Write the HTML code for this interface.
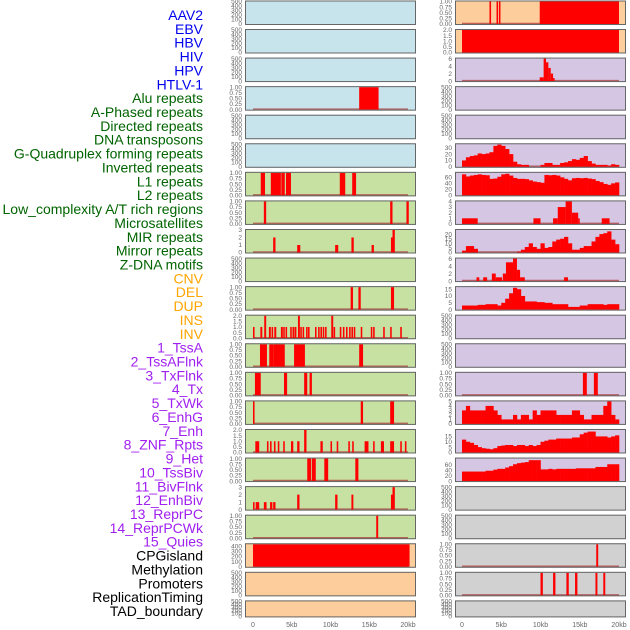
<!DOCTYPE html>
<html><head><meta charset="utf-8">
<style>
html,body{margin:0;padding:0;background:#fff;}
svg{display:block;font-family:"Liberation Sans",sans-serif;}
</style></head>
<body>
<svg id="chart" width="630" height="630" viewBox="0 0 630 630">
<g id="labels" font-size="14" text-anchor="end"></g>
<g id="panels"></g>
<g id="xaxis" font-size="7" fill="#666" text-anchor="middle"></g>
</svg>
<script>
const featureNames=["AAV2","EBV","HBV","HIV","HPV","HTLV-1","Alu repeats","A-Phased repeats","Directed repeats","DNA transposons","G-Quadruplex forming repeats","Inverted repeats","L1 repeats","L2 repeats","Low_complexity A/T rich regions","Microsatellites","MIR repeats","Mirror repeats","Z-DNA motifs","CNV","DEL","DUP","INS","INV","1_TssA","2_TssAFlnk","3_TxFlnk","4_Tx","5_TxWk","6_EnhG","7_Enh","8_ZNF_Rpts","9_Het","10_TssBiv","11_BivFlnk","12_EnhBiv","13_ReprPC","14_ReprPCWk","15_Quies","CPGisland","Methylation","Promoters","ReplicationTiming","TAD_boundary"];
const featureColors=["#0000ee","#0000ee","#0000ee","#0000ee","#0000ee","#0000ee","#006400","#006400","#006400","#006400","#006400","#006400","#006400","#006400","#006400","#006400","#006400","#006400","#006400","#ffa500","#ffa500","#ffa500","#ffa500","#ffa500","#a020f0","#a020f0","#a020f0","#a020f0","#a020f0","#a020f0","#a020f0","#a020f0","#a020f0","#a020f0","#a020f0","#a020f0","#a020f0","#a020f0","#a020f0","#000","#000","#000","#000","#000"];
const xTicks=[0,5,10,15,20];
const xTickLabels=["0","5kb","10kb","15kb","20kb"];
const t500=[0,100,200,300,400,500], t1=[0,0.25,0.5,0.75,1], t1L=["0.00","0.25","0.50","0.75","1.00"];
const t2=[0,0.5,1,1.5,2], t2L=["0.0","0.5","1.0","1.5","2.0"];
// segments: [startKb,endKb,value]
const L3=[[13.7,16.2,1]];
const L6=[[1.0,1.55,1],[2.3,3.6,1],[3.65,4.1,1],[4.25,4.9,1],[11.2,11.9,1],[12.8,13.3,1]];
const L7=[[1.4,1.7,1],[17.7,18.0,1],[19.8,20.1,1]];
const L8=[[2.6,2.9,2],[5.7,6.1,1],[10.6,11.0,1],[12.7,13.0,2],[15.3,15.6,1],[17.8,18.0,2],[18.0,18.3,3]];
const L10=[[12.6,12.9,1],[13.6,13.9,1],[17.8,18.2,1]];
const L11=[[0,0.2,1],[0.95,1.2,1],[1.45,1.7,2],[2.05,2.3,1],[2.4,2.6,1],[2.75,3.0,1],[3.6,3.85,1],[3.9,4.1,1],[4.2,4.4,1],[4.8,5.0,1],[5.1,5.3,1],[5.35,5.6,1],[5.8,6.05,2],[6.1,6.3,1],[6.4,6.6,1],[6.85,7.05,1],[7.1,7.3,1],[8.0,8.2,1],[8.4,8.6,1],[8.7,8.9,1],[9.0,9.2,1],[9.3,9.5,1],[10.1,10.35,2],[10.4,10.6,1],[11.2,11.4,1],[11.6,11.8,1],[12.0,12.2,1],[12.4,12.6,1],[12.7,12.9,1],[13.0,13.2,1],[13.9,14.1,1],[15.2,15.4,1],[15.5,15.7,1],[16.8,17.0,1],[17.7,17.9,1],[19.0,19.2,1]];
const L12=[[0.9,1.8,1],[2.1,2.6,1],[2.6,4.1,1],[5.3,6.7,1],[13.7,14.2,1]];
const L13=[[0.25,1.0,1],[4.0,4.4,1],[6.6,7.0,1],[7.3,7.6,1]];
const L14=[[0,0.2,1],[13.9,14.2,1],[17.7,18.2,1]];
const L15=[[0.3,0.8,1],[1.8,2.0,1],[2.2,2.4,1],[2.7,2.9,1],[3.2,3.4,1],[3.9,4.1,1],[4.9,5.2,1],[5.7,6.0,1],[6.6,6.9,2],[8.7,9.0,1],[10.0,10.2,1],[10.8,11.0,1],[12.3,12.5,1],[12.8,13.0,1],[14.4,14.9,1],[15.5,15.7,1],[16.5,16.9,1],[17.7,18.2,1],[19.0,19.2,1],[19.6,19.8,1]];
const L16=[[7.0,7.5,1],[7.6,8.1,1],[9.2,9.7,1],[13.2,13.6,1]];
const L17=[[0,0.2,1],[0.35,0.8,1],[1.4,1.75,1],[2.2,2.5,1],[2.6,2.9,1],[5.7,6.0,2],[10.6,10.9,2],[12.7,12.95,2],[17.8,18.0,2],[18.0,18.3,3]];
const L18=[[15.9,16.15,1]];
const L19=[[0,20.2,440]];
const R0=[[3.5,3.7,1],[4.4,4.55,1],[4.7,4.9,1],[9.9,20,1]];
const R1=[[0,20,2]];
const R2=[[9.9,10.4,1],[10.4,10.7,6],[10.7,11.0,5],[11.0,11.3,3.5],[11.3,11.6,2],[11.6,11.8,0.8]];
const R7=[[0,2.0,1],[9.1,10.0,1],[11.6,12.2,1],[12.2,13.2,3],[13.2,14.0,4],[14.0,14.8,2],[14.8,15.0,1],[17.8,18.8,1]];
const R9=[[1.85,2.2,1],[2.7,3.2,1],[3.8,4.3,2],[4.3,5.1,1],[5.2,5.6,2],[5.6,6.5,5],[6.5,7.0,6],[7.0,7.4,3],[7.4,8.0,1],[13.0,13.5,1]];
const R13=[[15.4,15.9,1],[16.8,17.3,1]];
const R19=[[17.1,17.35,1]];
const R20=[[10.0,10.3,1],[11.6,11.9,1],[13.3,13.6,1],[14.4,14.7,1],[17.0,17.25,1],[18.0,18.25,1]];
// histograms: 40 bins of 0.5kb from 0 to 20kb
const H5=[10,15,17,18,21,20,21,23,33,35,33,28,20,8,4,3,3,0,0,0,3,6,6,3,3,6,7,9,12,11,14,17,9,5,3,3,3,2,4,3];
const H6=[70,63,66,68,70,68,67,55,56,62,70,72,66,58,55,55,54,50,46,44,42,68,67,68,66,60,55,50,57,58,57,58,56,54,48,44,38,35,40,43];
const H8=[2,7,7,4,0,0,0,0,0,0,0,0,0,0,1,3,6,10,6,4,10,5,6,12,14,15,17,10,3,3,5,7,7,12,17,20,21,23,14,9];
const H10=[3,3,3,3,3.5,3.5,4,4,4,3,5,8,12,16,15,10,6,6,6,5.5,5.5,5,5,4,4,4,4,2,2,2,3,3,4,4,4,4,3.5,4,4,4];
const H14=[3,4,3,3,3,3,4,4,3,2,1,1,1,2,1,2,2,1,3,2,3,3,3,3,2,2,2,2,3,3,2,1,1,2,2,2,4,5,2,1];
const H15=[12,10,9,7,5,4,3.5,3,4,6,6.5,7,7,6,7,7,6,7,6,7,10,11,12,12,13,13,13,13,14,14,17,18.5,19.5,19.5,15,15,15,14,15,16];
const H16=[35,35,35,35,35,35,38,38,42,45,45,50,55,62,66,68,70,77,77,77,43,43,45,43,45,45,45,45,45,47,47,47,47,47,52,52,52,62,62,62];

const C={blue:"#c7e4ec",green:"#c7e1a3",peach:"#fdcd9b",purple:"#d5c6e3",gray:"#d1d1d1"};
const E={ymax:500,ticks:t500};
const leftPanels=[
 {n:"AAV2",bg:C.blue,...E},{n:"EBV",bg:C.blue,...E},{n:"HBV",bg:C.blue,...E},
 {n:"HIV",bg:C.blue,ymax:1,ticks:t1,tl:t1L,seg:L3},{n:"HPV",bg:C.blue,...E},{n:"HTLV-1",bg:C.blue,...E},
 {n:"Alu",bg:C.green,ymax:1,ticks:t1,tl:t1L,seg:L6},{n:"A-Phased",bg:C.green,ymax:1,ticks:t1,tl:t1L,seg:L7},
 {n:"Directed",bg:C.green,ymax:3,ticks:[0,1,2,3],seg:L8},{n:"DNA-transposons",bg:C.green,...E},
 {n:"G-Quadruplex",bg:C.green,ymax:1,ticks:t1,tl:t1L,seg:L10},{n:"Inverted",bg:C.green,ymax:2,ticks:t2,tl:t2L,seg:L11},
 {n:"L1",bg:C.green,ymax:1,ticks:t1,tl:t1L,seg:L12},{n:"L2",bg:C.green,ymax:1,ticks:t1,tl:t1L,seg:L13},
 {n:"Low-complexity",bg:C.green,ymax:1,ticks:t1,tl:t1L,seg:L14},{n:"Microsatellites",bg:C.green,ymax:2,ticks:t2,tl:t2L,seg:L15},
 {n:"MIR",bg:C.green,ymax:1,ticks:t1,tl:t1L,seg:L16},{n:"Mirror",bg:C.green,ymax:3,ticks:[0,1,2,3],seg:L17},
 {n:"Z-DNA",bg:C.green,ymax:1,ticks:t1,tl:t1L,seg:L18},{n:"CNV",bg:C.peach,ymax:440,ticks:[0,100,200,300,400],seg:L19},
 {n:"DEL",bg:C.peach,...E},{n:"DUP",bg:C.peach,...E}];
const rightPanels=[
 {n:"INS",bg:C.peach,ymax:1,ticks:t1,tl:t1L,seg:R0},{n:"INV",bg:C.peach,ymax:2,ticks:t2,tl:t2L,seg:R1},
 {n:"1-TssA",bg:C.purple,ymax:6,ticks:[0,2,4,6],seg:R2},{n:"2-TssAFlnk",bg:C.purple,...E},{n:"3-TxFlnk",bg:C.purple,...E},
 {n:"4-Tx",bg:C.purple,ymax:35.5,ticks:[0,10,20,30],hist:H5},{n:"5-TxWk",bg:C.purple,ymax:75,ticks:[0,20,40,60],hist:H6},
 {n:"6-EnhG",bg:C.purple,ymax:4,ticks:[0,1,2,3,4],seg:R7},{n:"7-Enh",bg:C.purple,ymax:24.5,ticks:[0,5,10,15,20],hist:H8},
 {n:"8-ZNF",bg:C.purple,ymax:6,ticks:[0,2,4,6],seg:R9},{n:"9-Het",bg:C.purple,ymax:16.5,ticks:[0,5,10,15],hist:H10},
 {n:"10-TssBiv",bg:C.purple,...E},{n:"11-BivFlnk",bg:C.purple,...E},
 {n:"12-EnhBiv",bg:C.purple,ymax:1,ticks:t1,tl:t1L,seg:R13},{n:"13-ReprPC",bg:C.purple,ymax:5,ticks:[0,1,2,3,4,5],hist:H14},
 {n:"14-ReprPCWk",bg:C.purple,ymax:21,ticks:[0,5,10,15],hist:H15},{n:"15-Quies",bg:C.purple,ymax:83,ticks:[0,20,40,60],hist:H16},
 {n:"CPGisland",bg:C.gray,...E},{n:"Methylation",bg:C.gray,...E},
 {n:"Promoters",bg:C.gray,ymax:1,ticks:t1,tl:t1L,seg:R19},{n:"ReplicationTiming",bg:C.gray,ymax:1,ticks:t1,tl:t1L,seg:R20},
 {n:"TAD-boundary",bg:C.gray,...E}];

const NS="http://www.w3.org/2000/svg";
function mk(tag,attrs,parent){const e=document.createElementNS(NS,tag);for(const k in attrs)e.setAttribute(k,attrs[k]);parent.appendChild(e);return e;}
const labels=document.getElementById('labels');
featureNames.forEach((name,i)=>{
  const t=mk('text',{x:203,y:(15+i*(596/43)+5).toFixed(1),fill:featureColors[i]},labels);
  
  
  t.textContent=name;
});
function rowTop(r){return r===0?0.5:29+28.57*(r-1);}
function rowH(r){return r===21?17:24.5;}
const panelsG=document.getElementById('panels');
function drawPanel(col,row,cfg){
  const bx=col?455:245, bw=171, xs0=col?462:253, kx=col?7.85:7.75;
  const sx=kb=>xs0+kb*kx;
  const top=rowTop(row), h=rowH(row), y0=top+h-1, yt=top+1;
  const sy=v=>y0-v/cfg.ymax*(y0-yt);
  const g=mk('g',{},panelsG);
  
  
  const bg=mk('rect',{x:bx,y:top,width:bw,height:h,fill:cfg.bg},g);
  
  
  const hasData=!!(cfg.seg||cfg.hist);
  if(hasData){
    const bl=mk('line',{x1:sx(0),x2:sx(20),y1:y0-0.5,y2:y0-0.5,stroke:"rgba(170,50,50,0.7)","stroke-width":1.5},g);
    
    
  }
  if(cfg.seg){cfg.seg.forEach(s=>{
    const v=Math.min(s[2],cfg.ymax);
    const r=mk('rect',{x:sx(s[0]).toFixed(2),y:sy(v).toFixed(2),width:Math.max(1.5,sx(s[1])-sx(s[0])).toFixed(2),height:(y0-sy(v)).toFixed(2),fill:"#ff0000"},g);
    
    
  });}
  if(cfg.hist){cfg.hist.forEach((v,i)=>{
    if(v<=0)return;
    const vv=Math.min(v,cfg.ymax);
    const r=mk('rect',{x:sx(i*0.5).toFixed(2),y:sy(vv).toFixed(2),width:(kx*0.5+0.3).toFixed(2),height:(y0-sy(vv)).toFixed(2),fill:"#ff0000"},g);
    
    
  });}
  const br=mk('rect',{x:bx+0.5,y:top+0.5,width:bw-1,height:h-1,fill:"none",stroke:"#666","stroke-width":1},g);
  
  
  cfg.ticks.forEach((t,i)=>{
    const tx=mk('text',{x:bx-3,y:(sy(t)+2.2).toFixed(1),"font-size":6.5,fill:"#666","text-anchor":"end"},g);
    
    
    tx.textContent=cfg.tl?cfg.tl[i]:String(t);
  });
}
leftPanels.forEach((p,i)=>drawPanel(0,i,p));
rightPanels.forEach((p,i)=>drawPanel(1,i,p));
const xa=document.getElementById('xaxis');
[0,1].forEach(col=>{
  xTicks.forEach((kb,i)=>{
    const t=mk('text',{x:((col?462:253)+kb*(col?7.85:7.75)).toFixed(1),y:627},xa);
    
    
    t.textContent=xTickLabels[i];
  });
});
</script>
</body></html>
